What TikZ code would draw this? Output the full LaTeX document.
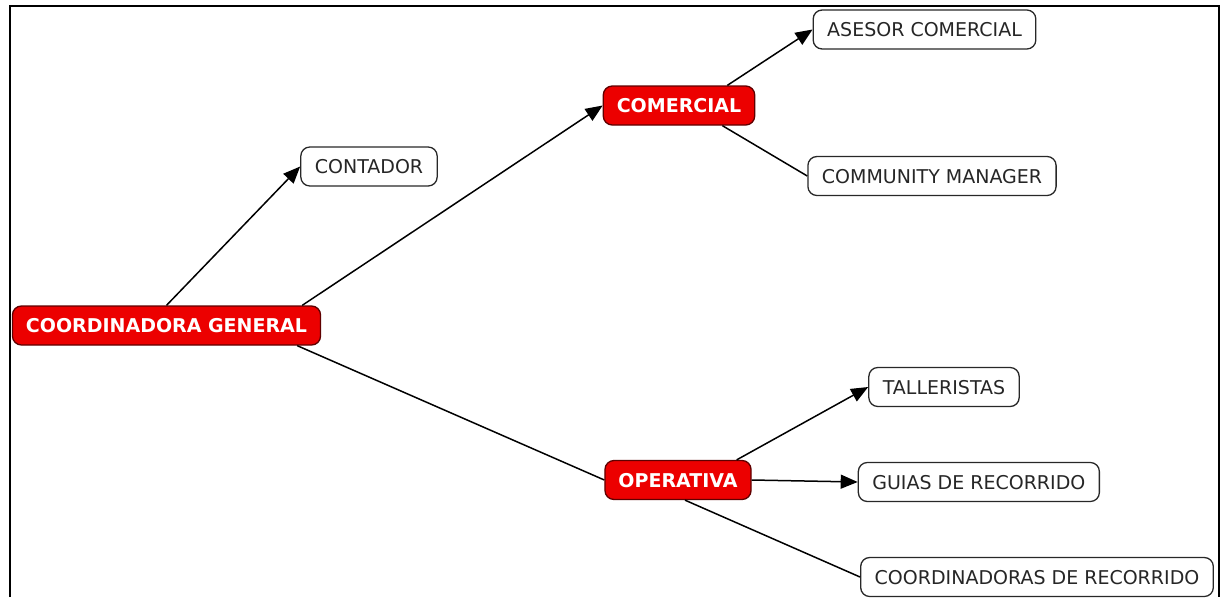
\documentclass[tikz,border=0pt]{standalone}
\usepackage{fontspec}
\setmainfont{DejaVu Sans}
\usepackage{tikz}
\usetikzlibrary{arrows.meta,positioning}

\definecolor{cajaroja}{RGB}{236,0,0}
\definecolor{bordeoscuro}{RGB}{95,0,0}
\definecolor{bordegris}{RGB}{40,40,40}

\begin{document}
\begin{tikzpicture}[x=1pt, y=-1pt, node distance=106pt,
	area/.style={draw=bordeoscuro, fill=cajaroja, text=white, font=\fontsize{19}{22}\selectfont\bfseries, rounded corners=9pt, line width=1.3pt, minimum height=39pt, text height=14pt, text depth=0pt, inner xsep=13.5pt},
	puesto/.style={draw=bordegris, fill=white, text=black!85, font=\fontsize{19}{22}\selectfont, rounded corners=9pt, line width=1.3pt, minimum height=39pt, text height=14pt, text depth=0pt, inner xsep=14pt},
	flecha/.style={line width=1.5pt, -{Triangle[length=17pt,width=14pt]}},
	linea/.style={line width=1.5pt}]

	\useasboundingbox (0,0) rectangle (1222,597);

	% Marco
	\draw[line width=2.4pt] (10,597) -- (10,6) -- (1219,6) -- (1219,597);

	% Coordinacion
	\node[area] (general) at (166.5,325.5) {COORDINADORA GENERAL};
	\node[puesto] (contador) at (369,166.5) {CONTADOR};

	% Comercial
	\node[area] (comercial) at (679,105.5) {COMERCIAL};
	\node[puesto] (asesor) at (924.5,29.5) {ASESOR COMERCIAL};
	\node[puesto] (community) at (932,176) {COMMUNITY MANAGER};

	% Operativa
	\node[area] (operativa) at (678,480) {OPERATIVA};
	\node[puesto] (talleristas) at (944,387) {TALLERISTAS};
	\node[puesto, right=of operativa, yshift=-2pt] (guias) {GUIAS DE RECORRIDO};
	\node[puesto] (coordinadoras) at (1037,577) {COORDINADORAS DE RECORRIDO};

	% Conexiones
	\draw[flecha] (general.north) -- (contador.west);
	\draw[flecha] ([xshift=-19pt]general.north east) -- (comercial.west);
	\draw[linea] ([xshift=-24pt]general.south east) -- (operativa.west);
	\draw[flecha] ([xshift=-28pt]comercial.north east) -- (asesor.west);
	\draw[linea] ([xshift=-33pt]comercial.south east) -- (community.west);
	\draw[flecha] ([xshift=-15pt]operativa.north east) -- (talleristas.west);
	\draw[flecha] (operativa.east) -- (guias.west);
	\draw[linea] ([xshift=7pt]operativa.south) -- (coordinadoras.west);
\end{tikzpicture}
\end{document}
